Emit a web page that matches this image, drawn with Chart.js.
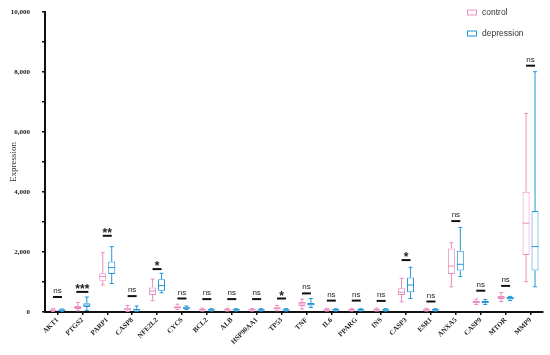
<!DOCTYPE html>
<html>
<head>
<meta charset="utf-8">
<script src="https://cdn.jsdelivr.net/npm/chart.js@4/dist/chart.umd.min.js"></script>
<style>
  body { margin: 0; background: #fff; }
  #wrap { width: 550px; height: 355px; position: relative; }
</style>
</head>
<body>
<div id="wrap"><canvas id="chart"></canvas></div>
<script>
// genes on the x axis
const genes = ["AKT1", "PTGS2", "PARP1", "CASP8", "NFE2L2", "CYCS", "BCL2", "ALB", "HSP90AA1", "TP53",
  "TNF", "IL6", "PPARG", "INS", "CASP3", "ESR1", "ANXA5", "CASP9", "MTOR", "MMP9"];

// box stats per gene: [min, q1, median, q3, max]
const controlStats = [
  [20, 40, 60, 80, 110], [40, 100, 150, 200, 320], [900, 1040, 1180, 1290, 1980], [20, 60, 100, 140, 220],
  [380, 570, 700, 820, 1100], [80, 120, 150, 190, 260], [30, 60, 80, 100, 130], [30, 55, 70, 90, 120],
  [30, 55, 75, 95, 120], [40, 80, 120, 160, 220], [100, 200, 270, 330, 430], [30, 50, 70, 90, 120],
  [30, 50, 70, 90, 120], [30, 55, 75, 95, 130], [340, 570, 660, 790, 1120], [30, 50, 70, 90, 120],
  [840, 1270, 1530, 2120, 2310], [250, 300, 330, 370, 430], [350, 430, 480, 530, 650], [1010, 1900, 2960, 4010, 6620]
];
const depressionStats = [
  [20, 40, 60, 80, 100], [50, 170, 230, 290, 500], [950, 1270, 1480, 1680, 2180], [20, 50, 80, 110, 200],
  [640, 710, 880, 1090, 1290], [80, 110, 130, 160, 200], [30, 50, 70, 90, 110], [30, 50, 70, 90, 110],
  [30, 50, 70, 90, 110], [30, 50, 70, 90, 110], [150, 220, 260, 300, 450], [30, 50, 70, 90, 110],
  [30, 50, 70, 90, 110], [30, 50, 70, 90, 110], [450, 660, 900, 1150, 1490], [30, 50, 70, 90, 110],
  [1180, 1380, 1590, 2040, 2820], [250, 290, 320, 370, 420], [380, 420, 460, 500, 520], [840, 1380, 2180, 3370, 8010]
];

// significance marks: height of the bar (data units) and its label
const sigHeight = [500, 670, 2540, 530, 1430, 450, 430, 430, 430, 450, 620, 380, 380, 370, 1730, 350, 3030, 710, 870, 8210];
const sigLabel = ["ns", "***", "**", "ns", "*", "ns", "ns", "ns", "ns", "*", "ns", "ns", "ns", "ns", "*", "ns", "ns", "ns", "ns", "ns"];

const yTicks = [0, 2000, 4000, 6000, 8000, 10000];

const pink = "#ea8ec0";
const blue = "#2196d6";
const serif = "'Liberation Serif', 'Times New Roman', serif";
const sans = "'Liberation Sans', Arial, sans-serif";

const statsBySet = [controlStats, depressionStats];

// whiskers, medians, significance bars and the legend
const boxExtras = {
  id: "boxExtras",
  afterDatasetsDraw(chart) {
    const ctx = chart.ctx;
    const y = chart.scales.y;
    const x = chart.scales.x;
    ctx.save();
    chart.data.datasets.forEach((ds, di) => {
      const meta = chart.getDatasetMeta(di);
      const stats = statsBySet[di];
      ctx.strokeStyle = ds.borderColor;
      ctx.lineWidth = 1;
      meta.data.forEach((bar, i) => {
        const [mn, q1, med, q3, mx] = stats[i];
        const cx = bar.x;
        const half = bar.width / 2;
        const cap = 2;
        ctx.beginPath();
        ctx.moveTo(cx, y.getPixelForValue(q3));
        ctx.lineTo(cx, y.getPixelForValue(mx));
        ctx.moveTo(cx, y.getPixelForValue(q1));
        ctx.lineTo(cx, y.getPixelForValue(mn));
        ctx.moveTo(cx - cap, y.getPixelForValue(mx));
        ctx.lineTo(cx + cap, y.getPixelForValue(mx));
        ctx.moveTo(cx - cap, y.getPixelForValue(mn));
        ctx.lineTo(cx + cap, y.getPixelForValue(mn));
        ctx.moveTo(cx - half, y.getPixelForValue(med));
        ctx.lineTo(cx + half, y.getPixelForValue(med));
        ctx.stroke();
      });
    });

    // significance
    sigHeight.forEach((h, i) => {
      const cx = x.getPixelForValue(i);
      const py = y.getPixelForValue(h);
      const lab = sigLabel[i];
      const hw = lab === "***" ? 6 : 4.5;
      ctx.strokeStyle = "#111";
      ctx.lineWidth = 2;
      ctx.beginPath();
      ctx.moveTo(cx - hw, py);
      ctx.lineTo(cx + hw, py);
      ctx.stroke();
      ctx.fillStyle = "#222";
      ctx.textAlign = "center";
      ctx.textBaseline = "alphabetic";
      if (lab === "ns") {
        ctx.font = "8px " + sans;
        ctx.fillText(lab, cx, py - 4);
      } else {
        ctx.font = "bold 12px " + sans;
        ctx.fillText(lab, cx, py + 1);
      }
    });

    // legend
    ctx.font = "8.5px " + sans;
    ctx.textAlign = "left";
    ctx.textBaseline = "middle";
    chart.data.datasets.forEach((ds, di) => {
      const ly = 12.5 + di * 21;
      ctx.strokeStyle = ds.borderColor;
      ctx.lineWidth = 1;
      ctx.strokeRect(467.5, ly - 2.5, 9, 5);
      ctx.fillStyle = "#333";
      ctx.fillText(ds.label, 482, ly);
    });
    ctx.restore();
  }
};

new Chart(document.getElementById("chart"), {
  type: "bar",
  data: {
    labels: genes,
    datasets: [
      {
        label: "control",
        data: controlStats.map((s) => [s[1], s[3]]),
        backgroundColor: "#fff",
        borderColor: pink,
        borderWidth: 1,
        borderSkipped: false
      },
      {
        label: "depression",
        data: depressionStats.map((s) => [s[1], s[3]]),
        backgroundColor: "#fff",
        borderColor: blue,
        borderWidth: 1,
        borderSkipped: false
      }
    ]
  },
  options: {
    responsive: true,
    maintainAspectRatio: false,
    animation: false,
    categoryPercentage: 0.72,
    barPercentage: 0.78,
    layout: { padding: { top: 12, right: 7, left: 0, bottom: 0 } },
    plugins: { legend: { display: false }, tooltip: { enabled: false } },
    scales: {
      x: {
        afterFit: (s) => { s.height = 43; },
        grid: { display: true, drawOnChartArea: false, offset: false, tickLength: 3, color: "#111", lineWidth: 1.5 },
        border: { color: "#111", width: 2 },
        ticks: {
          autoSkip: false,
          minRotation: 45,
          maxRotation: 45,
          padding: 1,
          color: "#222",
          font: { family: serif, size: 7, weight: "bold" }
        }
      },
      y: {
        min: 0,
        max: 10000,
        afterFit: (s) => { s.width = 45; s.paddingTop = 0; s.paddingBottom = 0; },
        title: { display: true, text: "Expression", color: "#333", font: { family: serif, size: 9 }, padding: { top: 8 } },
        grid: { display: true, drawOnChartArea: false, tickLength: 3, color: "#111", lineWidth: 1.5 },
        border: { color: "#111", width: 2 },
        ticks: {
          stepSize: 1000,
          padding: 12,
          color: "#222",
          font: { family: serif, size: 7, weight: "bold" },
          callback: (v) => (yTicks.includes(v) ? v.toLocaleString("en-US") : "")
        }
      }
    }
  },
  plugins: [boxExtras]
});
</script>
</body>
</html>
